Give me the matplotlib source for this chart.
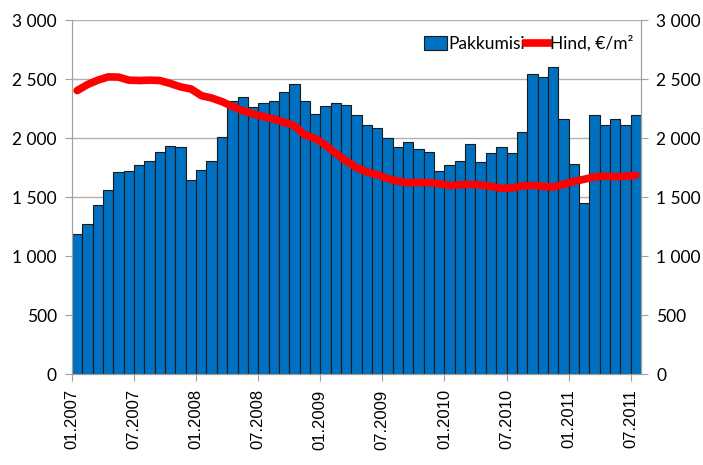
import matplotlib
matplotlib.use("Agg")
import matplotlib.pyplot as plt
from matplotlib.patches import Patch
from matplotlib.lines import Line2D

months = [f"{m:02d}.{y}" for y in range(2007, 2012) for m in range(1, 13)][:55]

pakkumisi = [1190, 1270, 1435, 1560, 1712, 1721, 1769, 1809, 1880, 1929, 1926,
             1641, 1732, 1803, 2011, 2316, 2345, 2262, 2296, 2316, 2393, 2459,
             2316, 2202, 2268, 2299, 2279, 2194, 2114, 2083, 1997, 1926, 1969,
             1909, 1880, 1721, 1775, 1806, 1946, 1798, 1875, 1920, 1869, 2054,
             2541, 2516, 2604, 2162, 1781, 1450, 2197, 2108, 2160, 2111, 2191]

hind = [2402, 2453, 2490, 2518, 2516, 2490, 2487, 2490, 2487, 2462, 2433,
        2416, 2359, 2339, 2308, 2268, 2231, 2205, 2182, 2160, 2134, 2103,
        2026, 1997, 1940, 1869, 1806, 1749, 1712, 1689, 1655, 1635, 1621,
        1624, 1621, 1613, 1598, 1604, 1607, 1601, 1590, 1573, 1576, 1593,
        1598, 1590, 1584, 1607, 1632, 1650, 1670, 1678, 1672, 1675, 1684]

yticks = [0, 500, 1000, 1500, 2000, 2500, 3000]
ytick_labels = ["0", "500", "1 000", "1 500", "2 000", "2 500", "3 000"]

W, H = 703, 465
fig = plt.figure(figsize=(W / 100, H / 100), dpi=100)
ax = fig.add_axes([72 / W, 1 - 374 / H, (641 - 72) / W, (374 - 20) / H])

n = len(pakkumisi)
xs = [i + 0.5 for i in range(n)]
ax.bar(xs, pakkumisi, width=1.0, color="#0070C0", edgecolor="#1a1a1a",
       linewidth=0.8, zorder=2)

ax2 = ax.twinx()
ax2.plot(xs, hind, color="#FF0000", linewidth=5.5, solid_capstyle="round",
         zorder=3)

for a in (ax, ax2):
    a.set_ylim(0, 3000)
    a.set_xlim(0, n)
    a.set_yticks(yticks)
    a.set_yticklabels(ytick_labels, fontfamily="Lato", fontsize=12.5)
    for s in a.spines.values():
        s.set_color("#a0a0a0")
    a.spines["top"].set_visible(False)
ax.tick_params(axis="y", length=5, color="#a0a0a0", pad=6)
ax2.tick_params(axis="y", length=5, color="#a0a0a0", pad=6)
ax.yaxis.grid(True, color="#b0b0b0", linewidth=1.0, zorder=0)
ax.set_axisbelow(True)

tick_pos = list(range(0, n, 6))
ax.set_xticks(tick_pos)
ax.set_xticklabels([months[i] for i in tick_pos], rotation=90,
                   fontfamily="Liberation Sans", fontsize=12)
ax.tick_params(axis="x", length=5, color="#a0a0a0", pad=6)

handles = [Patch(facecolor="#0070C0", edgecolor="#1a1a1a", linewidth=0.8),
           Line2D([0], [0], color="#FF0000", linewidth=5.5)]
leg = ax2.legend(handles, ["Pakkumisi", "Hind, €/m²"], loc="upper right",
                 bbox_to_anchor=(1.005, 0.985), ncol=2, frameon=False,
                 prop={"family": "Lato", "size": 12.5}, handlelength=1.3,
                 handleheight=0.9, handletextpad=0.1, columnspacing=0.05,
                 borderaxespad=0.2)

fig.savefig("out.png", dpi=100)
